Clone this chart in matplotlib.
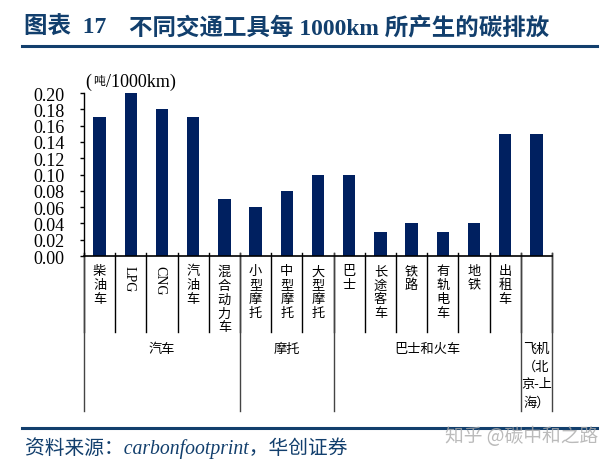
import matplotlib
matplotlib.use('Agg')
import matplotlib.pyplot as plt
import numpy as np

plt.rcParams['font.family'] = ['Liberation Serif', 'Noto Sans CJK SC']

# Data
categories = ['柴油车', 'LPG', 'CNG', '汽油车', '混合动力车', '小型摩托', '中型摩托', '大型摩托',
              '巴士', '长途客车', '铁路', '有轨电车', '地铁', '出租车', '']
values = [0.17, 0.20, 0.18, 0.17, 0.07, 0.06, 0.08, 0.10, 0.10, 0.03, 0.04, 0.03, 0.04, 0.15, 0.15]
groups = ['汽车', '摩托', '巴士和火车', '飞机\n（北\n京-上\n海）']
group_sizes = [5, 3, 6, 1]
yticks = np.arange(0, 0.21, 0.02)

W, H = 611, 464
NAVY = '#002060'
BLUE = '#123f6d'

fig = plt.figure(figsize=(W / 100, H / 100), dpi=100)

# Axes placed in pixel coords of the reference
left, right, top, bottom = 84, 552, 94, 257
ax = fig.add_axes([left / W, 1 - bottom / H, (right - left) / W, (bottom - top) / H])

x = np.arange(len(values))
ax.bar(x, values, width=0.4, color=NAVY)
ax.set_xlim(-0.5, len(values) - 0.5)
ax.set_ylim(0, 0.20)
ax.set_yticks(yticks)
ax.set_yticklabels([f'{v:.2f}' for v in yticks], fontsize=13)
ax.tick_params(axis='y', length=3, width=1, pad=11)
ax.set_xticks([])
ax.spines['top'].set_visible(False)
ax.spines['right'].set_visible(False)
ax.spines['left'].set_linewidth(1)
ax.spines['bottom'].set_linewidth(1.2)


def frac(py):
    # pixel row to axes fraction
    return (bottom - py) / (bottom - top)


trans = ax.get_xaxis_transform()
edges = np.cumsum([0] + group_sizes) - 0.5

# Separators under the axis
for e in np.arange(len(values) + 1) - 0.5:
    ax.plot([e, e], [frac(254), frac(333)], transform=trans, color='black', lw=1, clip_on=False)
for e in edges:
    ax.plot([e, e], [frac(254), frac(412)], transform=trans, color='#444444', lw=1, clip_on=False)

# Category labels, stacked by hand
for i, name in enumerate(categories):
    if name in ('LPG', 'CNG'):
        ax.text(i - 0.07, frac(266), name, transform=trans, rotation=270, ha='center', va='top', fontsize=10)
    elif name:
        ax.text(i, frac(266), '\n'.join(name), transform=trans, ha='center', va='top', fontsize=9.5,
                linespacing=1.2)

for j, name in enumerate(groups):
    c = (edges[j] + edges[j + 1]) / 2
    if '\n' in name:
        ax.text(c, frac(344), name, transform=trans, ha='center', va='top', fontsize=9.5, linespacing=1.58)
    else:
        ax.text(c, frac(350), name, transform=trans, ha='center', va='center', fontsize=9.5)

# Unit label in three pieces, the mixed-font string collides around the CJK glyph
fig.text(85 / W, 1 - 82 / H, '(', ha='left', va='center', fontsize=13)
fig.text(93 / W, 1 - 82 / H, '吨', ha='left', va='center', fontsize=8.5)
fig.text(106 / W, 1 - 82 / H, '/1000km)', ha='left', va='center', fontsize=13)

# Header and footer
fig.text(24 / W, 1 - 28 / H, '图表  17', ha='left', va='center', fontsize=16.9, fontweight='bold', color=BLUE)
fig.text(129 / W, 1 - 28 / H, '不同交通工具每 1000km 所产生的碳排放', ha='left', va='center', fontsize=16.9,
         fontweight='bold', color=BLUE)
fig.add_artist(plt.Line2D([22 / W, 597 / W], [1 - 47 / H, 1 - 47 / H], color=BLUE, lw=2.2))
fig.add_artist(plt.Line2D([22 / W, 597 / W], [1 - 429 / H, 1 - 429 / H], color=BLUE, lw=2.2))
fig.text(25 / W, 1 - 448 / H, '资料来源：carbonfootprint，华创证券', ha='left', va='center', fontsize=14.2,
         style='italic', color=BLUE)
fig.text(445 / W, 1 - 437 / H, '知乎 @碳中和之路', ha='left', va='center', fontsize=13.5, color='#aaaaaa',
         alpha=0.8, family=['Noto Sans CJK SC', 'DejaVu Sans'])

fig.savefig('out.png', dpi=100)
